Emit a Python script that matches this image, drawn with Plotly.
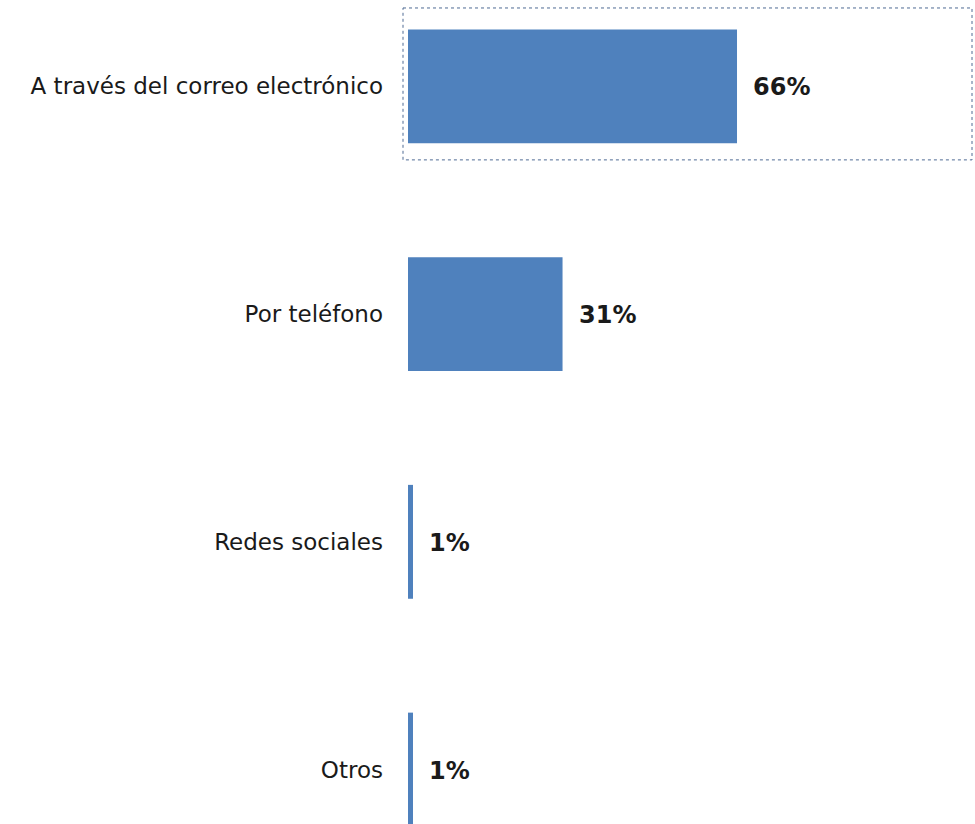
import plotly.graph_objects as go

# Survey: contact channel shares (%)
categories = ["A través del correo electrónico", "Por teléfono", "Redes sociales", "Otros"]
values = [66, 31, 1, 1]

BAR_COLOR = "#4F81BD"
FONT = "DejaVu Sans"

fig = go.Figure(
    go.Bar(
        x=values,
        y=categories,
        orientation="h",
        width=0.5,
        marker=dict(color=BAR_COLOR, line=dict(width=0)),
        hoverinfo="skip",
    )
)

# value labels to the right of each bar
for cat, val in zip(categories, values):
    fig.add_annotation(
        x=val, y=cat, text=f"<b>{val}%</b>", showarrow=False,
        xanchor="left", yanchor="middle", xshift=14, yshift=-1,
        font=dict(family=FONT, size=24, color="#1a1a1a"),
    )

# dotted selection frame around the first row
fig.add_shape(
    type="rect", xref="paper", yref="y",
    x0=-5 / 567, x1=564 / 567, y0=-0.344, y1=0.323,
    line=dict(color="#4f6b94", width=1, dash="dot"),
    fillcolor="rgba(0,0,0,0)",
)

fig.update_layout(
    width=975, height=824,
    margin=dict(l=408, r=0, t=0, b=0),
    paper_bgcolor="white", plot_bgcolor="white",
    showlegend=False,
    font=dict(family=FONT, size=20, color="#1a1a1a"),
    xaxis=dict(range=[0, 113.74], visible=False, fixedrange=True),
    yaxis=dict(
        type="category",
        categoryorder="array", categoryarray=categories,
        range=[3.239, -0.379],
        showgrid=False, zeroline=False, showline=False, ticks="",
        ticklabelstandoff=24,
        tickfont=dict(family=FONT, size=23, color="#1a1a1a"),
    ),
)

fig.write_html("out.html")
